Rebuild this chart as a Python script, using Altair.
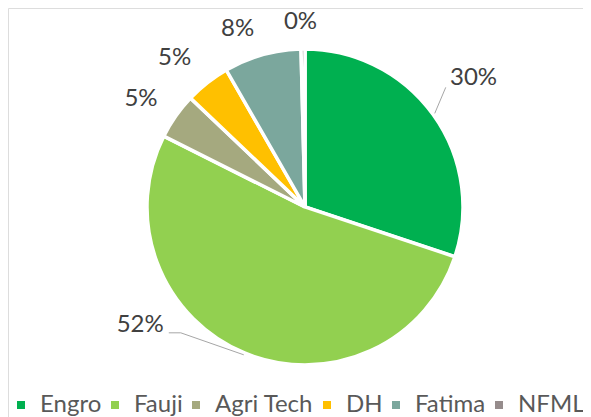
import math
import altair as alt
import pandas as pd

categories = ["Engro", "Fauji", "Agri Tech", "DH", "Fatima", "NFML"]
shares = [30.1, 52.3, 4.7, 4.6, 7.9, 0.4]
labels = ["30%", "52%", "5%", "5%", "8%", "0%"]
colors = ["#00B050", "#92D050", "#A5A97F", "#FFC000", "#7BA79D", "#968C8C"]

df = pd.DataFrame({"cat": categories, "share": shares, "label": labels,
                   "idx": list(range(len(categories)))})

# layout / style constants
W, H = 575, 409
CX, CY = 297, 199
R = 158
LABEL_R = 198
FONT = "Lato"
label_offsets = {"Engro": (8, -13), "Fauji": (-89, -65), "Agri Tech": (-2, 6),
                 "DH": (-8, 7), "Fatima": (-14, 13), "NFML": (-2, 13)}
# leader-line bends (relative offsets from the slice edge at its mid angle)
leader_bends = {"Engro": [(11, -26)], "Fauji": [(-63, -22), (-75, -22)]}

# leader lines derived from the slice angles
total = sum(shares)
cum = 0.0
mids = {}
for c, v in zip(categories, shares):
    mids[c] = (cum + v / 2) / total * 2 * math.pi
    cum += v
rows = []
for c, bends in leader_bends.items():
    a = mids[c]
    sx, sy = CX + (R + 2) * math.sin(a), CY - (R + 2) * math.cos(a)
    rows.append({"cat": c, "k": 0, "px": sx, "py": sy})
    for k, (ox, oy) in enumerate(bends, start=1):
        rows.append({"cat": c, "k": k, "px": sx + ox, "py": sy + oy})
lead_df = pd.DataFrame(rows)

theta = alt.Theta("share:Q", stack=True)
order = alt.Order("idx:Q")
color = alt.Color(
    "cat:N",
    scale=alt.Scale(domain=categories, range=colors),
    sort=categories,
    legend=alt.Legend(
        title=None, orient="none", legendX=1, legendY=385, direction="horizontal",
        symbolType="square", symbolSize=64, symbolStrokeWidth=0,
        labelFont=FONT, labelFontSize=24, labelColor="#595959",
        columnPadding=1, labelOffset=7, gridAlign="none", labelLimit=0,
    ),
)

pie = alt.Chart(df).mark_arc(outerRadius=R, stroke="white", strokeWidth=3.5).encode(
    theta=theta, color=color, order=order, x=alt.value(CX), y=alt.value(CY)
)

layers = [pie]
for c in categories:
    dx, dy = label_offsets[c]
    layers.append(
        alt.Chart(df).mark_text(
            radius=LABEL_R, dx=dx, dy=dy, font=FONT, fontSize=24, color="#404040",
            align="center", baseline="middle",
        ).encode(
            theta=theta, order=order, x=alt.value(CX), y=alt.value(CY),
            text=alt.condition(alt.datum.cat == c, alt.Text("label:N"), alt.value("")),
        )
    )

leaders = alt.Chart(lead_df).mark_line(color="#A6A6A6", strokeWidth=1).encode(
    x=alt.X("px:Q", scale=None, axis=None),
    y=alt.Y("py:Q", scale=None, axis=None),
    detail="cat:N",
    order="k:Q",
)
layers.append(leaders)

chart = alt.layer(*layers).properties(
    width=W, height=H, autosize=alt.AutoSizeParams(type="none"), padding=0,
).configure_view(stroke=None).configure(background="white")

chart.save("out.html", embed_options={"renderer": "svg", "actions": False})
